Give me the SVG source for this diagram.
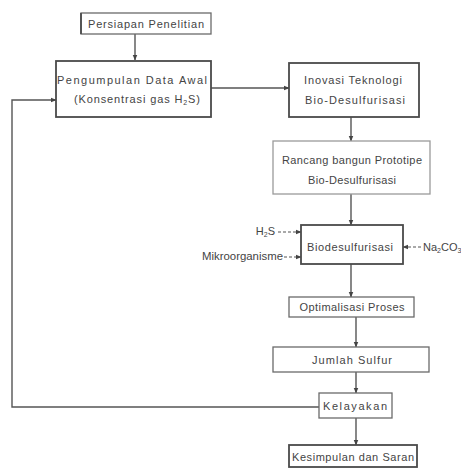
<svg xmlns="http://www.w3.org/2000/svg" width="461" height="469" viewBox="0 0 461 469">
<style>
.box{fill:#fff;stroke:#6a6a6a;stroke-width:1.3}
.dark{stroke:#4a4a4a;stroke-width:1.8}
.light{stroke:#9a9a9a;stroke-width:1.3}
text{font-family:"Liberation Sans",Arial,sans-serif;font-size:11px;fill:#444}
.ln{stroke:#555;stroke-width:1.4;fill:none}
.dash{stroke:#555;stroke-width:1.2;fill:none;stroke-dasharray:3 2}
</style>
<defs>
<marker id="ah" viewBox="0 0 10 10" refX="9" refY="5" markerWidth="6" markerHeight="6" orient="auto" markerUnits="userSpaceOnUse">
<path d="M0,1 L10,5 L0,9 z" fill="#444"/>
</marker>
</defs>
<rect width="461" height="469" fill="#fff"/>
<g id="connectors">
<line class="ln" x1="135" y1="34" x2="135" y2="60" marker-end="url(#ah)"/>
<line class="ln" x1="211" y1="88" x2="289" y2="88" marker-end="url(#ah)"/>
<line class="ln" x1="351" y1="117" x2="351" y2="141" marker-end="url(#ah)"/>
<line class="ln" x1="351" y1="194" x2="351" y2="225" marker-end="url(#ah)"/>
<line class="dash" x1="278" y1="232" x2="301" y2="232" marker-end="url(#ah)"/>
<line class="dash" x1="284" y1="257" x2="301" y2="257" marker-end="url(#ah)"/>
<line class="dash" x1="421" y1="247" x2="403" y2="247" marker-end="url(#ah)"/>
<line class="ln" x1="351" y1="264" x2="351" y2="297" marker-end="url(#ah)"/>
<line class="ln" x1="356" y1="317" x2="356" y2="347" marker-end="url(#ah)"/>
<line class="ln" x1="356" y1="372" x2="356" y2="393" marker-end="url(#ah)"/>
<line class="ln" x1="356" y1="418" x2="356" y2="445" marker-end="url(#ah)"/>
<polyline class="ln" points="319,407 12,407 12,100 56,100" marker-end="url(#ah)"/>
</g>
<g id="n1"><rect class="box" x="81" y="13" width="130" height="21"/><line x1="81" y1="13" x2="81" y2="34" stroke="#555" stroke-width="2"/><text x="146" y="28" text-anchor="middle" textLength="116" lengthAdjust="spacing">Persiapan Penelitian</text></g>
<g id="n2"><rect class="box dark" x="56" y="61" width="155" height="56"/><text x="132" y="84" text-anchor="middle" textLength="150" lengthAdjust="spacing">Pengumpulan Data Awal</text><text x="137" y="103" text-anchor="middle" textLength="126" lengthAdjust="spacing">(Konsentrasi gas H<tspan font-size="7" dy="2">2</tspan><tspan dy="-2">S)</tspan></text></g>
<g id="n3"><rect class="box dark" x="289" y="63" width="130" height="54"/><text x="353" y="84" text-anchor="middle" textLength="98" lengthAdjust="spacing">Inovasi Teknologi</text><text x="355" y="104" text-anchor="middle" textLength="100" lengthAdjust="spacing">Bio-Desulfurisasi</text></g>
<g id="n4"><rect class="box light" x="273" y="141" width="157" height="53"/><text x="352" y="164" text-anchor="middle" textLength="140" lengthAdjust="spacing">Rancang bangun Prototipe</text><text x="352" y="184" text-anchor="middle" textLength="88" lengthAdjust="spacing">Bio-Desulfurisasi</text></g>
<g id="n5"><rect class="box dark" x="301" y="225" width="102" height="39"/><text x="350" y="251" text-anchor="middle" textLength="86" lengthAdjust="spacing">Biodesulfurisasi</text></g>
<g id="in1"><text x="275" y="235" text-anchor="end">H<tspan font-size="7" dy="2">2</tspan><tspan dy="-2">S</tspan></text></g>
<g id="in2"><text x="202" y="260" textLength="81" lengthAdjust="spacingAndGlyphs">Mikroorganisme</text></g>
<g id="in3"><text x="423" y="251">Na<tspan font-size="7" dy="2">2</tspan><tspan dy="-2">CO</tspan><tspan font-size="7" dy="2">3</tspan></text></g>
<g id="n6"><rect class="box" x="289" y="297" width="125" height="20"/><text x="352" y="311" text-anchor="middle" textLength="105" lengthAdjust="spacing">Optimalisasi Proses</text></g>
<g id="n7"><rect class="box" x="273" y="347" width="156" height="25"/><text x="352" y="364" text-anchor="middle" textLength="80" lengthAdjust="spacing">Jumlah Sulfur</text></g>
<g id="n8"><rect class="box" x="319" y="393" width="73" height="25"/><text x="355" y="410" text-anchor="middle" textLength="64" lengthAdjust="spacing">Kelayakan</text></g>
<g id="n9"><rect class="box dark" x="289" y="445" width="128" height="22"/><text x="353" y="461" text-anchor="middle" textLength="122" lengthAdjust="spacing">Kesimpulan dan Saran</text></g>
</svg>
